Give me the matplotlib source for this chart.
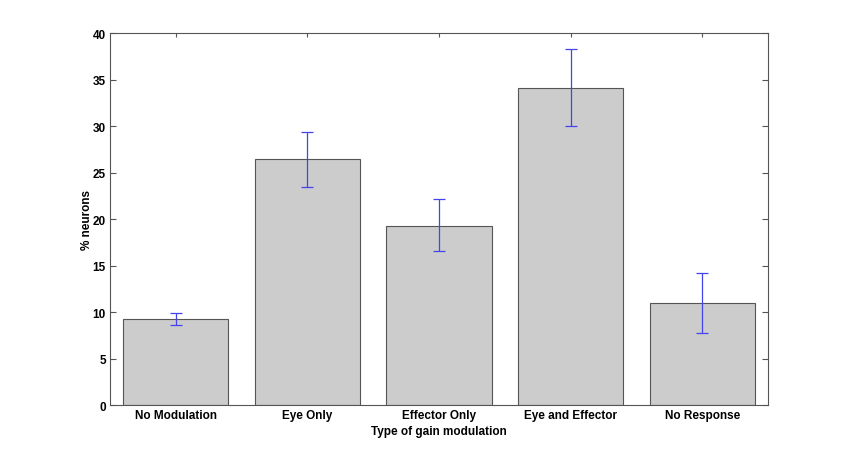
import numpy as np
import matplotlib
matplotlib.use("Agg")
from matplotlib import pyplot as plt

categories = ["No Modulation", "Eye Only", "Effector Only", "Eye and Effector", "No Response"]
values = [9.2, 26.4, 19.3, 34.1, 11.0]
err_low = [0.6, 3.0, 2.7, 4.1, 3.3]
err_high = [0.7, 3.0, 2.8, 4.2, 3.2]
yticks = [0, 5, 10, 15, 20, 25, 30, 35, 40]

plt.rcParams['font.family'] = ['Liberation Sans', 'DejaVu Sans']

fig = plt.figure(figsize=(8.49, 4.56), dpi=100)
ax = fig.add_axes([0.1296, 0.1096, 0.9046 - 0.1296, 0.9254 - 0.1096])

x = np.arange(1, len(values) + 1)
ax.bar(x, values, width=0.8, color='#cccccc', edgecolor='#555555', linewidth=0.8, zorder=2)
ax.errorbar(x, values, yerr=[err_low, err_high], fmt='none', ecolor='#4444ee',
            elinewidth=0.9, capsize=4.5, capthick=0.9, zorder=3)

ax.set_xlim(0.5, 5.5)
ax.set_ylim(0, 40)
ax.set_yticks(yticks)
ax.set_xticks(x)
ax.set_xticklabels(categories, fontsize=8.5, fontweight='bold')
for lab in ax.get_yticklabels():
    lab.set_fontsize(8.5)
    lab.set_fontweight('bold')

ax.tick_params(direction='in', length=4, color='#555555', top=True, right=True, pad=3)
ax.tick_params(axis='x', length=3)
for s in ax.spines.values():
    s.set_color('#555555')
    s.set_linewidth(0.8)

ax.set_xlabel("Type of gain modulation", fontsize=8.5, fontweight='bold', labelpad=3)
ax.set_ylabel("% neurons", fontsize=8.5, fontweight='bold', labelpad=0)

fig.savefig("out.png", dpi=100)
